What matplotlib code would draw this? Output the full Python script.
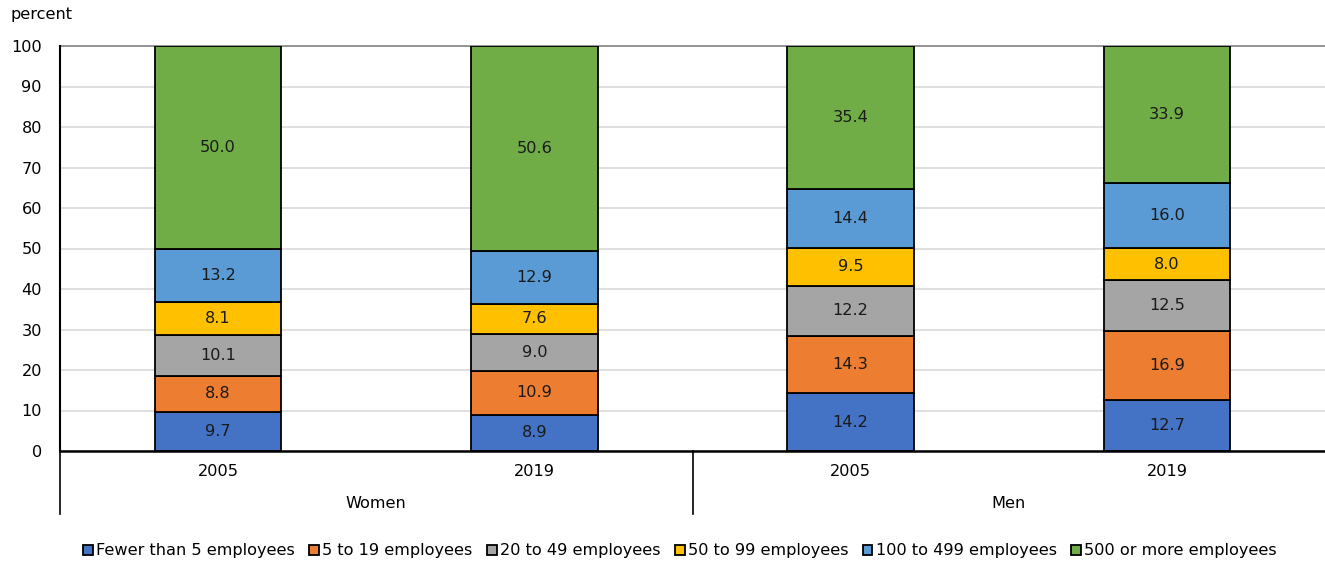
import matplotlib.pyplot as plt
import matplotlib.transforms as mtransforms
import numpy as np

years = ["2005", "2019", "2005", "2019"]
groups = ["Women", "Men"]
sizes = ["Fewer than 5 employees", "5 to 19 employees", "20 to 49 employees",
         "50 to 99 employees", "100 to 499 employees", "500 or more employees"]

fewer_than_5 = [9.7, 8.9, 14.2, 12.7]
from_5_to_19 = [8.8, 10.9, 14.3, 16.9]
from_20_to_49 = [10.1, 9.0, 12.2, 12.5]
from_50_to_99 = [8.1, 7.6, 9.5, 8.0]
from_100_to_499 = [13.2, 12.9, 14.4, 16.0]
over_500 = [50.0, 50.6, 35.4, 33.9]

colors = ["#4472C4", "#ED7D31", "#A5A5A5", "#FFC000", "#5B9BD5", "#70AD47"]

series = [fewer_than_5, from_5_to_19, from_20_to_49, from_50_to_99, from_100_to_499, over_500]

plt.rcParams['font.family'] = ['DejaVu Sans']
fs = 11.6

fig = plt.figure(figsize=(13.25, 5.63), dpi=100)
ax = fig.add_axes([60 / 1325, 1 - 451 / 563, 1 - 60 / 1325, (451 - 46) / 563])

x = np.arange(len(years))
bottom = np.zeros(len(years))
for name, vals, col in zip(sizes, series, colors):
    vals = np.array(vals)
    ax.bar(x, vals, 0.4, bottom=bottom, color=col, edgecolor="black", linewidth=1.3,
           label=name, zorder=3)
    for xi, b, v in zip(x, bottom, vals):
        ax.text(xi, b + v / 2, f"{v:.1f}", ha="center", va="center", fontsize=fs,
                color="#1a1a1a", zorder=4)
    bottom += vals

ax.set_xlim(-0.5, 3.5)
ax.set_ylim(0, 100)
ax.set_yticks(range(0, 101, 10))
ax.tick_params(axis="y", length=0, pad=13, labelsize=fs)
ax.set_xticks([])
ax.grid(axis="y", color="#D9D9D9", linewidth=1.2, zorder=0)
ax.axhline(100, color="#8c8c8c", linewidth=1.3, zorder=2, clip_on=False)
for s in ["top", "right"]:
    ax.spines[s].set_visible(False)
ax.spines["left"].set_linewidth(1.5)
ax.spines["bottom"].set_linewidth(1.8)
ax.spines["bottom"].set_zorder(5)

# category labels below the axis
trans = mtransforms.blended_transform_factory(ax.transData, fig.transFigure)
for xi, yr in zip(x, years):
    ax.text(xi, 1 - 471 / 563, yr, transform=trans, ha="center", va="center", fontsize=fs)
for gi, g in enumerate(groups):
    ax.text(gi * 2 + 0.5, 1 - 504 / 563, g, transform=trans, ha="center", va="center",
            fontsize=fs)
for sx in [-0.5, 1.5]:
    ax.plot([sx, sx], [1 - 451 / 563, 1 - 514 / 563], transform=trans, color="black",
            linewidth=1.2, clip_on=False)

fig.text(10 / 1325, 1 - 15 / 563, "percent", ha="left", va="center", fontsize=fs)

fig.legend(loc="center", bbox_to_anchor=(680 / 1325, 1 - 551 / 563), ncol=6,
           frameon=False, fontsize=fs, handlelength=0.6, handleheight=0.6,
           handletextpad=0.2, columnspacing=0.9, borderaxespad=0)

fig.savefig("out.png", dpi=100)
